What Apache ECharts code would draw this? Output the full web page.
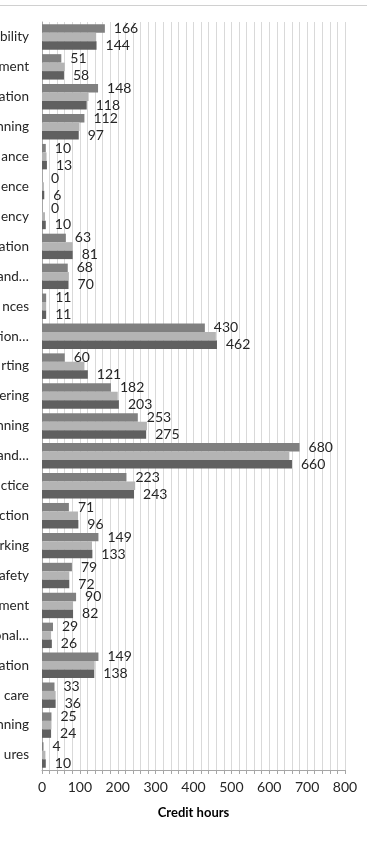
<!DOCTYPE html>
<html>
<head>
<meta charset="utf-8">
<script src="https://cdn.jsdelivr.net/npm/echarts@6/dist/echarts.min.js"></script>
<style>
  html, body { margin: 0; padding: 0; background: #fff; }
  #chart { width: 367px; height: 845px; }
</style>
</head>
<body>
<div id="chart"></div>
<script>
// category labels as visible in the (cropped) original
const categories = [
  'bility', 'ment', 'ation', 'nning', 'ance', 'ence', 'ency', 'ation',
  't and…', 'nces', 'ction…', 'rting', 'ering', 'nning', 'y and…', 'ctice',
  'ction', 'rking', 'afety', 'ment', 'ional…', 'ation', ' care', 'nning', 'ures'
];
const seriesA = [166, 51, 148, 112, 10, 0, 0, 63, 68, 11, 430, 60, 182, 253, 680, 223, 71, 149, 79, 90, 29, 149, 33, 25, 4];
const seriesB = [143, 60, 123, 99, 12, 5, 8, 81, 71, 11, 459, 112, 200, 277, 653, 246, 95, 132, 72, 82, 24, 139, 36, 25, 9];
const seriesC = [144, 58, 118, 97, 13, 6, 10, 81, 70, 11, 462, 121, 203, 275, 660, 243, 96, 133, 72, 82, 26, 138, 36, 24, 10];

const font = 'Lato, "Open Sans", sans-serif';
const chart = echarts.init(document.getElementById('chart'));

const label = {
  show: true,
  position: 'right',
  distance: 9,
  color: '#262626',
  fontSize: 14,
  fontFamily: font,
};

chart.setOption({
  animation: false,
  grid: { left: 42, right: 22, top: 22, bottom: 75, outerBoundsMode: 'none', containLabel: false },
  graphic: [
    {
      type: 'line',
      shape: { x1: 0, y1: 5.5, x2: 367, y2: 5.5 },
      style: { stroke: '#d0d0d0', lineWidth: 1 },
    },
  ],
  xAxis: {
    type: 'value',
    min: 0,
    max: 800,
    interval: 20,
    name: 'Credit hours',
    nameLocation: 'middle',
    nameGap: 36,
    nameTextStyle: { fontFamily: font, fontSize: 13, fontWeight: 'bold', color: '#000' },
    axisLine: { show: true, lineStyle: { color: '#a6a6a6' } },
    axisTick: { show: true, length: 4, lineStyle: { color: '#a6a6a6' } },
    axisLabel: {
      margin: 10,
      fontFamily: font,
      fontSize: 14,
      color: '#262626',
      formatter: (v) => (v % 100 === 0 ? String(v) : ''),
    },
    splitLine: { show: true, lineStyle: { color: '#d9d9d9', width: 1 } },
  },
  yAxis: {
    type: 'category',
    data: categories,
    inverse: true,
    axisLine: { show: true, lineStyle: { color: '#a6a6a6' } },
    axisTick: { show: false },
    axisLabel: {
      interval: 0,
      margin: 13,
      fontFamily: font,
      fontSize: 13.5,
      color: '#262626',
    },
  },
  series: [
    {
      type: 'bar',
      data: seriesA,
      itemStyle: { color: '#808080' },
      barGap: '0%',
      barCategoryGap: '15%',
      label,
    },
    {
      type: 'bar',
      data: seriesB,
      itemStyle: { color: '#b4b4b4' },
      barGap: '0%',
      barCategoryGap: '15%',
    },
    {
      type: 'bar',
      data: seriesC,
      itemStyle: { color: '#606060' },
      barGap: '0%',
      barCategoryGap: '15%',
      label,
    },
  ],
});
</script>
</body>
</html>
